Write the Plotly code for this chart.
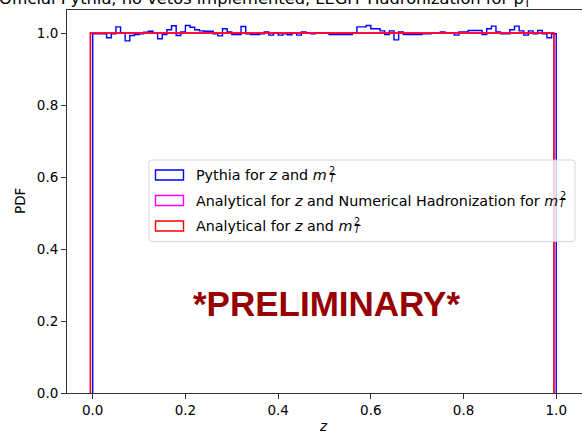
import numpy as np
import plotly.graph_objects as go

# ---------------- data ----------------
pythia_edges = np.linspace(0.0, 1.0, 101)
analytic_edges = np.linspace(-0.005, 0.995, 101)

pythia_values = [
    0.998, 0.998, 0.998, 0.987, 0.998, 1.017, 1.000, 0.978, 0.993, 0.996,
    0.998, 1.002, 1.005, 1.000, 0.984, 0.996, 1.009, 1.020, 0.993, 1.003,
    1.021, 1.016, 1.009, 1.006, 1.005, 1.005, 0.998, 0.992, 1.012, 1.003,
    0.996, 0.996, 1.018, 0.998, 0.996, 0.996, 0.998, 1.003, 0.994, 1.000,
    0.994, 0.998, 0.995, 1.000, 0.994, 1.003, 1.000, 0.998, 1.000, 1.000,
    1.000, 0.996, 0.996, 0.996, 0.996, 0.996, 1.000, 1.017, 1.017, 1.021,
    1.012, 1.012, 1.006, 0.996, 1.006, 0.981, 1.003, 0.996, 0.996, 0.996,
    0.996, 0.998, 0.998, 1.000, 1.000, 1.003, 1.000, 1.000, 0.994, 1.003,
    1.003, 1.007, 1.007, 1.007, 0.996, 1.012, 1.019, 1.003, 0.998, 0.998,
    1.009, 1.019, 1.006, 0.994, 1.006, 0.998, 1.007, 0.998, 0.987, 0.998,
]
numerical_values = [1.0] * 100
analytic_values = [1.0] * 100

legend_labels = [
    "Pythia for <i>z</i> and <i>m</i>",
    "Analytical for <i>z</i> and Numerical Hadronization for <i>m</i>",
    "Analytical for <i>z</i> and <i>m</i>",
]
legend_colors = ["#0000ff", "#ff00ff", "#ff0000"]

x_ticks = [0.0, 0.2, 0.4, 0.6, 0.8, 1.0]
y_ticks = [0.0, 0.2, 0.4, 0.6, 0.8, 1.0]

title_text = "Official Pythia, no vetos implemented, LEGIT Hadronization for p<sub>T</sub>"

# ---------------- layout geometry ----------------
W, H = 582, 433
L, R, T, B = 67, 0, 10, 40
PW = W - L - R
PH = H - T - B


def px(x):
    return (x - L) / PW


def py(y):
    return (H - B - y) / PH


def step_xy(edges, values):
    xs = [edges[0]] + list(edges[:-1]) + [edges[-1]]
    ys = [0.0] + list(values) + [0.0]
    return xs, ys


fig = go.Figure()
for edges, vals, col in [
    (pythia_edges, pythia_values, legend_colors[0]),
    (analytic_edges, numerical_values, legend_colors[1]),
    (analytic_edges, analytic_values, legend_colors[2]),
]:
    xs, ys = step_xy(edges, vals)
    fig.add_trace(go.Scatter(x=xs, y=ys, mode="lines", line=dict(color=col, width=1.4, shape="hv"),
                             showlegend=False, hoverinfo="skip"))

FONT = "DejaVu Sans"
annotations = []
shapes = []

# legend box
bx0, bx1, by0, by1 = 149, 575, 160, 241.5
r = 3
x0, x1, y0, y1 = px(bx0), px(bx1), py(by0), py(by1)
rx, ry = r / PW, r / PH
path = (f"M {x0+rx},{y0} L {x1-rx},{y0} Q {x1},{y0} {x1},{y0-ry} L {x1},{y1+ry} Q {x1},{y1} {x1-rx},{y1} "
        f"L {x0+rx},{y1} Q {x0},{y1} {x0},{y1+ry} L {x0},{y0-ry} Q {x0},{y0} {x0+rx},{y0} Z")
shapes.append(dict(type="path", xref="paper", yref="paper", path=path,
                   fillcolor="rgba(255,255,255,0.8)", line=dict(color="rgba(204,204,204,0.8)", width=1),
                   layer="above"))

row_y = [175, 200.5, 226]
m_end = [328, 558.5, 353]
for i, (lab, col) in enumerate(zip(legend_labels, legend_colors)):
    cy = row_y[i]
    shapes.append(dict(type="rect", xref="paper", yref="paper",
                       x0=px(155.5), x1=px(183.5), y0=py(cy - 5), y1=py(cy + 5),
                       line=dict(color=col, width=1.4), fillcolor="rgba(0,0,0,0)", layer="above"))
    annotations.append(dict(text=lab, x=px(m_end[i]), y=py(cy), xref="paper", yref="paper",
                            xanchor="right", yanchor="middle", showarrow=False, borderpad=0,
                            font=dict(family=FONT, size=14.3, color="black")))
    annotations.append(dict(text="2", x=px(m_end[i]), y=py(cy - 5), xref="paper", yref="paper",
                            xanchor="left", yanchor="middle", showarrow=False, borderpad=0,
                            font=dict(family=FONT, size=9.8, color="black")))
    annotations.append(dict(text="<i>T</i>", x=px(m_end[i] - 0.5), y=py(cy + 3), xref="paper", yref="paper",
                            xanchor="left", yanchor="middle", showarrow=False, borderpad=0,
                            font=dict(family=FONT, size=9.8, color="black")))

# PRELIMINARY
annotations.append(dict(text="<b>*PRELIMINARY*</b>", x=px(326), y=py(303), xref="paper", yref="paper",
                        xanchor="center", yanchor="middle", showarrow=False,
                        font=dict(family="Liberation Sans", size=35, color="#960000")))
# axis labels
annotations.append(dict(text="PDF", x=px(20), y=py(201), xref="paper", yref="paper", textangle=-90,
                        xanchor="center", yanchor="middle", showarrow=False,
                        font=dict(family=FONT, size=13.5, color="black")))
annotations.append(dict(text="<i>z</i>", x=px(323.5), y=py(426), xref="paper", yref="paper",
                        xanchor="center", yanchor="middle", showarrow=False,
                        font=dict(family=FONT, size=13.5, color="black")))
# title (cropped at top of the figure)
annotations.append(dict(text=title_text, x=px(-3), y=py(-0.5), xref="paper", yref="paper",
                        xanchor="left", yanchor="middle", showarrow=False,
                        font=dict(family=FONT, size=16.3, color="black")))

axis_common = dict(showgrid=False, zeroline=False, showline=True, linecolor="#333", linewidth=1,
                   ticks="outside", ticklen=5, tickwidth=1, tickcolor="#333",
                   tickfont=dict(family=FONT, size=13.5, color="black"))

fig.update_layout(
    width=W, height=H,
    margin=dict(l=L, r=R, t=T, b=B),
    paper_bgcolor="white", plot_bgcolor="white",
    xaxis=dict(range=[-0.0555, 1.0556], tickvals=x_ticks, ticktext=[f"{v:.1f}" for v in x_ticks],
               mirror=True, **axis_common),
    yaxis=dict(range=[0, PH / 360.0], tickvals=y_ticks, ticktext=[f"{v:.1f}" for v in y_ticks],
               mirror=False, **axis_common),
    annotations=annotations,
    shapes=shapes,
    showlegend=False,
)

fig.write_html("out.html")
